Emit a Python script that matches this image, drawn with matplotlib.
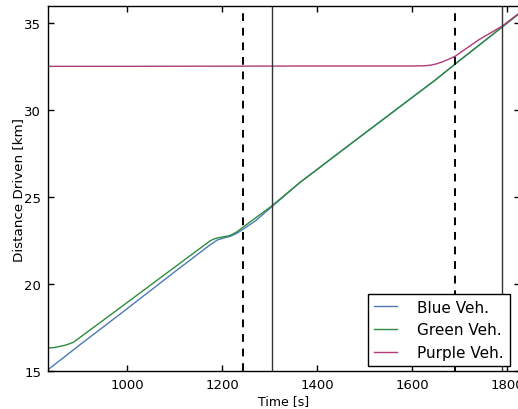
import matplotlib
matplotlib.use("Agg")
import matplotlib.pyplot as plt

# ----- data -----
blue_t = [833, 900, 985, 1100, 1174, 1190, 1205, 1216, 1230, 1243, 1270, 1304, 1363, 1469, 1650, 1690, 1790, 1827]
blue_d = [15.09, 16.52, 18.29, 20.72, 22.26, 22.55, 22.68, 22.75, 22.92, 23.15, 23.65, 24.45, 25.84, 28.04, 31.77, 32.65, 34.8, 35.6]

green_t = [833, 845, 858, 872, 886, 967, 1100, 1174, 1182, 1192, 1205, 1216, 1230, 1243, 1304, 1363, 1469, 1650, 1690, 1790, 1827]
green_d = [16.34, 16.36, 16.43, 16.52, 16.66, 18.29, 20.99, 22.49, 22.6, 22.68, 22.74, 22.8, 23.0, 23.27, 24.5, 25.84, 28.04, 31.77, 32.65, 34.8, 35.6]

purple_t = [833, 1000, 1200, 1400, 1600, 1625, 1640, 1652, 1664, 1676, 1690, 1740, 1790, 1827]
purple_d = [32.53, 32.53, 32.54, 32.55, 32.55, 32.56, 32.6, 32.68, 32.79, 32.93, 33.1, 34.05, 34.85, 35.62]

dashed_t = [1243, 1690]
solid_t = [1304, 1790]

x_ticks = [1000, 1200, 1400, 1600, 1800]
y_ticks = [15, 20, 25, 30, 35]

# ----- figure -----
fig = plt.figure(figsize=(5.18, 4.10), dpi=100)
ax = fig.add_axes([0.0927, 0.092, 0.911, 0.891])

ax.plot(blue_t, blue_d, color='#4a7ab8', lw=1.0, label='Blue Veh.')
ax.plot(green_t, green_d, color='#2e8b3e', lw=1.0, label='Green Veh.')
ax.plot(purple_t, purple_d, color='#b03a7a', lw=1.0, label='Purple Veh.')

for t in dashed_t:
    ax.axvline(t, color='black', lw=1.4, ls=(0, (4, 3.5)))
for t in solid_t:
    ax.axvline(t, color='#333333', lw=1.0)

ax.set_xlim(833, 1827)
ax.set_ylim(15, 36)
ax.set_xticks(x_ticks)
ax.set_yticks(y_ticks)
ax.tick_params(direction='in', top=True, right=True, length=4, width=1, labelsize=9.5, pad=5)
for sp in ax.spines.values():
    sp.set_linewidth(1.0)

ax.set_xlabel('Time [s]', fontsize=9, labelpad=2)
ax.set_ylabel('Distance Driven [km]', fontsize=9.7, labelpad=-0.5)

leg = ax.legend(loc='lower right', bbox_to_anchor=(0.978, 0.014), fontsize=11,
                fancybox=False, framealpha=1, edgecolor='black',
                handlelength=1.5, handletextpad=1.3, borderpad=0.4,
                borderaxespad=0.0, labelspacing=0.5)
leg.get_frame().set_linewidth(1.0)

fig.savefig('out.png', dpi=100)
